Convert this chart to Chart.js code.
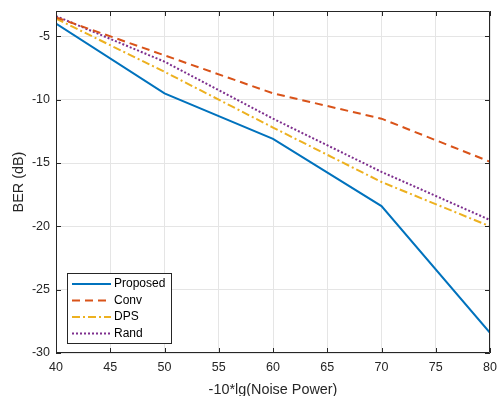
<!DOCTYPE html>
<html>
<head>
<meta charset="utf-8">
<script src="https://cdn.jsdelivr.net/npm/chart.js@4"></script>
<style>
  html, body { margin: 0; padding: 0; background: #fff; }
  #wrap { width: 497px; height: 396px; }
</style>
</head>
<body>
<div id="wrap"><canvas id="grafico-ber" width="497" height="396"></canvas></div>
<script>
// datos
const noisePower = [40, 50, 60, 70, 80];
const berProposed = [-4.0, -9.5, -13.1, -18.4, -28.4];
const berConv = [-3.5, -6.5, -9.5, -11.5, -14.9];
const berDps = [-3.6, -7.8, -12.2, -16.5, -20.0];
const berRand = [-3.4, -7.0, -11.5, -15.7, -19.5];
const xTicks = [40, 45, 50, 55, 60, 65, 70, 75, 80];
const yTicks = [-30, -25, -20, -15, -10, -5];

const axisColor = '#262626';
const fontFam = '"Liberation Sans", Arial, Helvetica, sans-serif';

const toPoints = (ys) => noisePower.map((x, i) => ({ x: x, y: ys[i] }));

// caja, marcas interiores y leyenda estilo MATLAB
const boxPlugin = {
    id: 'boxPlugin',
    afterDraw(chart) {
        const ctx = chart.ctx;
        const a = chart.chartArea;
        const xs = chart.scales.x;
        const ys = chart.scales.y;
        ctx.save();
        ctx.strokeStyle = axisColor;
        ctx.lineWidth = 1;
        ctx.beginPath();
        ctx.rect(a.left + 0.5, a.top + 0.5, a.right - a.left - 1, a.bottom - a.top - 1);
        ctx.stroke();
        const tl = 5;
        ctx.beginPath();
        xTicks.forEach((v) => {
            const px = Math.round(xs.getPixelForValue(v)) + 0.5;
            ctx.moveTo(px, a.bottom); ctx.lineTo(px, a.bottom - tl);
            ctx.moveTo(px, a.top); ctx.lineTo(px, a.top + tl);
        });
        yTicks.forEach((v) => {
            const py = Math.round(ys.getPixelForValue(v)) + 0.5;
            ctx.moveTo(a.left, py); ctx.lineTo(a.left + tl, py);
            ctx.moveTo(a.right, py); ctx.lineTo(a.right - tl, py);
        });
        ctx.stroke();

        // leyenda
        const lx = 67, ly = 273, lw = 104, lh = 70;
        ctx.fillStyle = '#fff';
        ctx.fillRect(lx, ly, lw, lh);
        ctx.strokeStyle = axisColor;
        ctx.strokeRect(lx + 0.5, ly + 0.5, lw, lh);
        ctx.font = '12px ' + fontFam;
        ctx.textBaseline = 'middle';
        chart.data.datasets.forEach((ds, i) => {
            const y = ly + 11 + i * 16.5;
            ctx.strokeStyle = ds.borderColor;
            ctx.lineWidth = ds.borderWidth;
            ctx.setLineDash(ds.borderDash || []);
            ctx.beginPath();
            ctx.moveTo(lx + 5, y);
            ctx.lineTo(lx + 44, y);
            ctx.stroke();
            ctx.setLineDash([]);
            ctx.fillStyle = '#000';
            ctx.fillText(ds.label, lx + 47, y);
        });
        ctx.restore();
    }
};

new Chart(document.getElementById('grafico-ber').getContext('2d'), {
    type: 'line',
    data: {
        datasets: [
            { label: 'Proposed', data: toPoints(berProposed), borderColor: '#0072BD', borderWidth: 2 },
            { label: 'Conv', data: toPoints(berConv), borderColor: '#D95319', borderWidth: 2, borderDash: [8, 5] },
            { label: 'DPS', data: toPoints(berDps), borderColor: '#EDB120', borderWidth: 2, borderDash: [8, 3, 2, 3] },
            { label: 'Rand', data: toPoints(berRand), borderColor: '#7E2F8E', borderWidth: 2, borderDash: [2, 2] }
        ]
    },
    options: {
        responsive: false,
        animation: false,
        layout: { padding: { top: 11, right: 7, left: 0, bottom: 0 } },
        elements: { point: { radius: 0 }, line: { tension: 0, fill: false } },
        plugins: { legend: { display: false }, tooltip: { enabled: false } },
        scales: {
            x: {
                type: 'linear',
                min: 40,
                max: 80,
                afterBuildTicks: (s) => { s.ticks = xTicks.map((v) => ({ value: v })); },
                afterFit: (s) => { s.height = 43; s.paddingLeft = 0; s.paddingRight = 0; },
                grid: { color: '#e5e5e5', drawTicks: false },
                border: { display: false },
                ticks: { color: axisColor, font: { size: 12.5, family: fontFam }, padding: 7, maxRotation: 0 },
                title: { display: true, text: '-10*lg(Noise Power)', color: axisColor, font: { size: 14.4, family: fontFam, lineHeight: 1 }, padding: { top: 2, bottom: -1 } }
            },
            y: {
                type: 'linear',
                min: -30,
                max: -3,
                afterBuildTicks: (s) => { s.ticks = yTicks.map((v) => ({ value: v })); },
                afterFit: (s) => { s.width = 56; s.paddingTop = 0; s.paddingBottom = 0; },
                grid: { color: '#e5e5e5', drawTicks: false },
                border: { display: false },
                ticks: { color: axisColor, font: { size: 12.5, family: fontFam }, padding: 6 },
                title: { display: true, text: 'BER (dB)', color: axisColor, font: { size: 14.4, family: fontFam }, padding: { top: 10, bottom: 2 } }
            }
        }
    },
    plugins: [boxPlugin]
});
</script>
</body>
</html>
